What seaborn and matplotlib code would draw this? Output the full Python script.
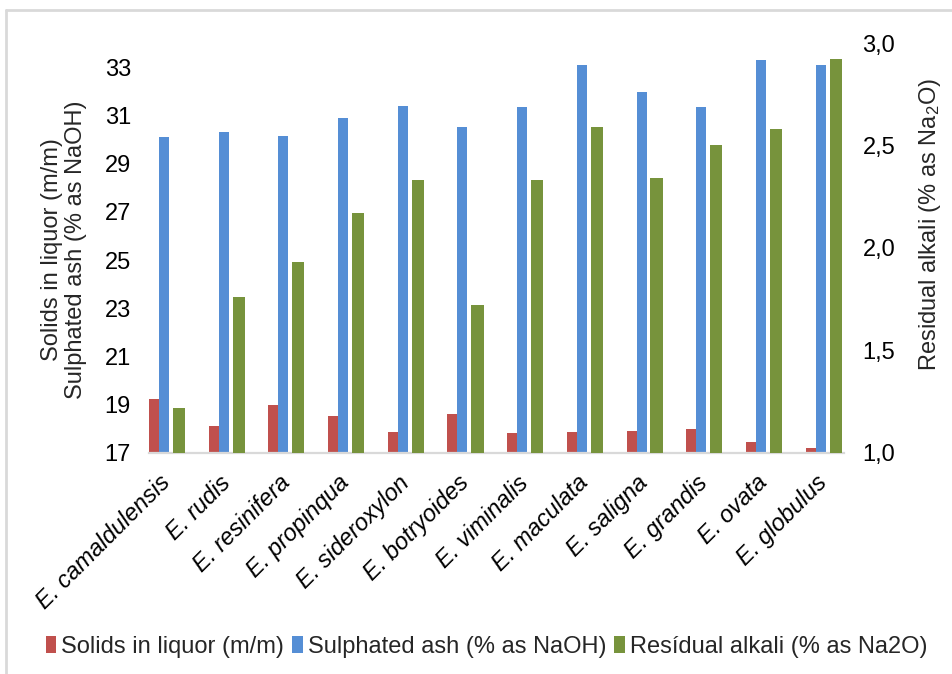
import numpy as np
import pandas as pd
import matplotlib
matplotlib.use("Agg")
import matplotlib.pyplot as plt
import matplotlib.patches as mpatches
from matplotlib.lines import Line2D
from matplotlib.ticker import FuncFormatter
import seaborn as sns

# ---- data ----
species = ["E. camaldulensis", "E. rudis", "E. resinifera", "E. propinqua",
           "E. sideroxylon", "E. botryoides", "E. viminalis", "E. maculata",
           "E. saligna", "E. grandis", "E. ovata", "E. globulus"]
solids = [19.24, 18.13, 18.99, 18.52, 17.86, 18.63, 17.81, 17.88, 17.92, 17.99, 17.44, 17.22]
ash = [30.10, 30.33, 30.14, 30.91, 31.38, 30.53, 31.33, 33.07, 31.96, 31.35, 33.28, 33.08]
alkali = [1.22, 1.76, 1.93, 2.17, 2.33, 1.72, 2.33, 2.59, 2.34, 2.50, 2.58, 2.92]
left_ticks = [17, 19, 21, 23, 25, 27, 29, 31, 33]
right_ticks = [1.0, 1.5, 2.0, 2.5, 3.0]

series_names = ["Solids in liquor (m/m)", "Sulphated ash (% as NaOH)",
                "Resídual alkali (% as Na2O)"]
colors = ["#C0504D", "#558ED5", "#77933C"]

sns.set_theme(style="white")
plt.rcParams["font.family"] = ["Liberation Sans", "DejaVu Sans"]
plt.rcParams["mathtext.fontset"] = "custom"
plt.rcParams["mathtext.rm"] = "Liberation Sans"
plt.rcParams["mathtext.default"] = "regular"

FS = 17

df = pd.DataFrame({"species": species, "solids": solids, "ash": ash, "alkali": alkali})
idx = np.arange(len(species))

fig = plt.figure(figsize=(9.52, 6.74), dpi=100)
ax = fig.add_axes([0.1565, 0.3279, 0.7305, 0.6083])
ax2 = ax.twinx()

# bar layout inside each group (offsets / widths in category units)
sns.barplot(x=idx - 0.218, y=df["solids"], native_scale=True, width=0.1675,
            color=colors[0], saturation=1, linewidth=0, errorbar=None, ax=ax)
sns.barplot(x=idx - 0.05, y=df["ash"], native_scale=True, width=0.1675,
            color=colors[1], saturation=1, linewidth=0, errorbar=None, ax=ax)
sns.barplot(x=idx + 0.201, y=df["alkali"], native_scale=True, width=0.205,
            color=colors[2], saturation=1, linewidth=0, errorbar=None, ax=ax2)

for a in (ax, ax2):
    a.set_xlim(-0.3015, 11.348)
    a.set_xlabel("")
    a.set_ylabel("")
    a.grid(False)
    for s in a.spines.values():
        s.set_visible(False)

ax.set_ylim(17, 34)
ax.set_yticks(left_ticks)
ax2.set_ylim(1.0, 3.0)
ax2.set_yticks(right_ticks)
ax2.yaxis.set_major_formatter(FuncFormatter(lambda v, p: f"{v:.1f}".replace(".", ",")))

ax.spines["bottom"].set_visible(True)
ax.spines["bottom"].set_color("#d9d9d9")
ax.spines["bottom"].set_linewidth(1.6)

ax.set_xticks(idx)
ax.set_xticklabels(species, rotation=45, ha="right", va="center", rotation_mode="anchor",
                   fontstyle="italic", fontsize=FS)
ax.tick_params(axis="x", length=0, pad=19, colors="#000000")
ax.tick_params(axis="y", length=0, pad=13, labelsize=FS, colors="#000000")
ax2.tick_params(axis="y", length=0, pad=13, labelsize=FS, colors="#000000")

fig.text(64 / 952, 1 - 250 / 674, "Solids in liquor (m/m)\nSulphated ash (% as NaOH)",
         rotation=90, ha="center", va="center", fontsize=FS, linespacing=1.12)
fig.text(930 / 952, 1 - 225 / 674, "Residual alkali (% as Na$_2$O)",
         rotation=90, ha="center", va="center", fontsize=FS)

handles = [mpatches.Patch(facecolor=c, edgecolor="none") for c in colors]
fig.legend(handles, series_names, loc="center", bbox_to_anchor=(0.511, 1 - 647 / 674),
           ncol=3, frameon=False, fontsize=FS, handlelength=0.45, handleheight=0.7,
           handletextpad=0.2, columnspacing=0.35)

# outer chart frame (light grey, as in the spreadsheet export)
fig.add_artist(Line2D([6 / 952, 6 / 952], [0, 1 - 10 / 674], transform=fig.transFigure,
                      color="#d9d9d9", lw=2))
fig.add_artist(Line2D([6 / 952, 1], [1 - 10 / 674, 1 - 10 / 674], transform=fig.transFigure,
                      color="#d9d9d9", lw=2))

fig.savefig("out.png", dpi=100, facecolor="white")
